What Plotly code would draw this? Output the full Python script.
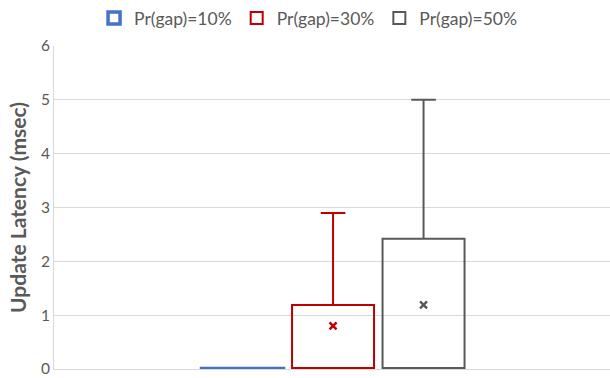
import plotly.graph_objects as go

# Summary statistics per gap probability (msec)
series_names = ["Pr(gap)=10%", "Pr(gap)=30%", "Pr(gap)=50%"]
positions = [0, 1, 2]
q1_vals = [0.0, 0.0, 0.0]
median_vals = [0.0, 0.0, 0.0]
q3_vals = [0.01, 1.19, 2.42]
lower_vals = [0.0, 0.0, 0.0]
upper_vals = [0.01, 2.9, 5.0]
mean_vals = [0.0, 0.8, 1.19]
colors = ["#4472C4", "#C00000", "#595959"]
y_ticks = [0, 1, 2, 3, 4, 5, 6]

fig = go.Figure()
for i, name in enumerate(series_names):
    fig.add_trace(go.Box(
        name=name,
        x=[positions[i]],
        q1=[q1_vals[i]],
        median=[median_vals[i]],
        q3=[q3_vals[i]],
        lowerfence=[lower_vals[i]],
        upperfence=[upper_vals[i]],
        width=0.906,
        whiskerwidth=0.3,
        line=dict(color=colors[i], width=3.5 if i == 0 else 2),
        fillcolor="rgba(255,255,255,0)",
        boxpoints=False,
        hoverinfo="skip",
    ))
    if i > 0:
        fig.add_trace(go.Scatter(
            x=[positions[i]],
            y=[mean_vals[i]],
            mode="markers",
            marker=dict(symbol="x-thin", size=7, color=colors[i],
                        line=dict(color=colors[i], width=2.5)),
            showlegend=False,
            hoverinfo="skip",
        ))

fig.update_layout(
    width=610,
    height=378,
    margin=dict(l=54, r=0, t=46, b=9),
    paper_bgcolor="white",
    plot_bgcolor="white",
    font=dict(family="Lato, Open Sans, sans-serif", color="#595959"),
    showlegend=True,
    legend=dict(
        orientation="h",
        xref="container",
        yref="container",
        x=0.505, xanchor="center",
        y=1.0, yanchor="top",
        font=dict(size=17.5, color="#595959"),
        itemwidth=30,
        tracegroupgap=0,
    ),
    xaxis=dict(
        range=[-2.083, 4.06],
        showticklabels=False,
        showgrid=False,
        zeroline=False,
        showline=True,
        linecolor="#d9d9d9",
        linewidth=1,
    ),
    yaxis=dict(
        range=[0, 6],
        tickvals=y_ticks,
        tickfont=dict(size=15.5, color="#595959"),
        showgrid=True,
        gridcolor="#d9d9d9",
        gridwidth=1,
        zeroline=False,
        showline=True,
        linecolor="#d9d9d9",
        linewidth=1,
        ticks="",
        ticklen=0,
        title=dict(text="<b>Update Latency (msec)</b>",
                   font=dict(size=21, color="#595959"), standoff=8),
    ),
)

fig.write_html("out.html")
